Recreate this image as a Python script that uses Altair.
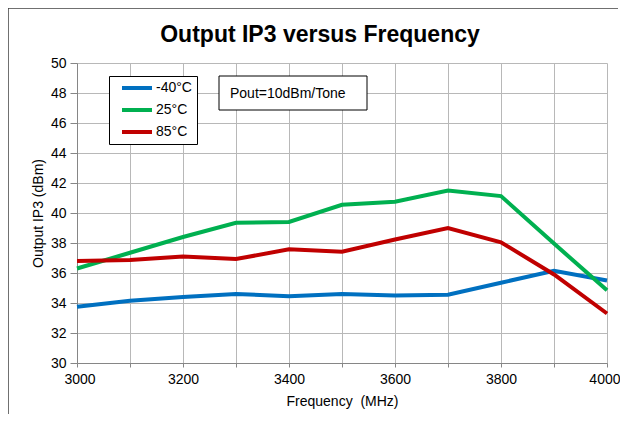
import altair as alt
import pandas as pd

freq = [3000, 3100, 3200, 3300, 3400, 3500, 3600, 3700, 3800, 3900, 4000]
ip3_m40 = [33.75, 34.15, 34.4, 34.6, 34.45, 34.6, 34.5, 34.55, 35.35, 36.15, 35.5]
ip3_p25 = [36.3, 37.35, 38.4, 39.35, 39.4, 40.55, 40.75, 41.5, 41.13, 37.96, 34.85]
ip3_p85 = [36.8, 36.87, 37.1, 36.93, 37.58, 37.42, 38.23, 39.0, 38.05, 35.9, 33.3]
series = ["-40°C", "25°C", "85°C"]
colors = ["#0070C0", "#00B050", "#C00000"]
x_ticks = [3000, 3100, 3200, 3300, 3400, 3500, 3600, 3700, 3800, 3900, 4000]
y_ticks = [30, 32, 34, 36, 38, 40, 42, 44, 46, 48, 50]
note = "Pout=10dBm/Tone"
title_text = "Output IP3 versus Frequency"

rows = []
for name, vals in zip(series, [ip3_m40, ip3_p25, ip3_p85]):
    for f, v in zip(freq, vals):
        rows.append({"Frequency": f, "IP3": v, "Temp": name})
df = pd.DataFrame(rows)
one = pd.DataFrame({"t": [note], "title": [title_text]})

FONT = "Liberation Sans"

lines = alt.Chart(df).mark_line(strokeWidth=4).encode(
    x=alt.X("Frequency:Q", scale=alt.Scale(domain=[3000, 4000], nice=False),
            axis=alt.Axis(values=x_ticks, title="Frequency\u00a0 (MHz)",
                          labelExpr="datum.value % 200 == 0 ? datum.label : ''",
                          labelFlush=True, labelFlushOffset=13, format="d", tickSize=4,
                          labelPadding=5, titlePadding=8)),
    y=alt.Y("IP3:Q", scale=alt.Scale(domain=[30, 50], nice=False),
            axis=alt.Axis(values=y_ticks, title="Output IP3 (dBm)",
                          tickSize=7, labelPadding=4, titlePadding=5)),
    color=alt.Color("Temp:N", scale=alt.Scale(domain=series, range=colors),
                    legend=alt.Legend(title=None, orient="none", legendX=32, legendY=13,
                                      symbolType="stroke", symbolSize=900,
                                      symbolStrokeWidth=4, clipHeight=14, rowPadding=8,
                                      padding=5, symbolOffset=6, labelOffset=2,
                                      labelExpr="datum.label + '\u00a0\u00a0\u00a0\u00a0'",
                                      labelFontSize=14, labelFont=FONT, labelColor="black",
                                      strokeColor="black", fillColor="white")),
    order=alt.Order("Frequency:Q"),
)

box = alt.Chart(one).mark_rect(fill="white", stroke="black", strokeWidth=1).encode(
    x=alt.value(142), x2=alt.value(290), y=alt.value(13), y2=alt.value(47)
)
txt = alt.Chart(one).mark_text(align="left", baseline="alphabetic", font=FONT,
                               fontSize=14, color="black").encode(
    x=alt.value(153), y=alt.value(35), text="t:N"
)
title = alt.Chart(one).mark_text(align="center", baseline="alphabetic", font=FONT,
                                 fontSize=23, fontWeight="bold", color="black").encode(
    x=alt.value(243), y=alt.value(-21), text="title:N"
)
frame_top = alt.Chart(one).mark_rule(color="#404040", strokeWidth=1.5).encode(
    x=alt.value(-69), x2=alt.value(541), y=alt.value(-55)
)
frame_left = alt.Chart(one).mark_rule(color="#404040", strokeWidth=1.5).encode(
    x=alt.value(-69), y=alt.value(-55), y2=alt.value(360)
)

chart = alt.layer(lines, box, txt, title, frame_top, frame_left).properties(
    width=530, height=300,
    autosize=alt.AutoSizeParams(type="none"),
    padding={"left": 69, "top": 55, "right": 13, "bottom": 51},
).configure_view(stroke="transparent").configure_axis(
    labelFont=FONT, labelFontSize=14, labelColor="black",
    titleFont=FONT, titleFontSize=14, titleFontWeight="normal", titleColor="black",
    gridColor="#b8b8b8", gridWidth=1, domainColor="#868686", tickColor="#868686",
    gridOpacity=1,
)

chart.save("out.html", embed_options={"renderer": "svg", "actions": False})
